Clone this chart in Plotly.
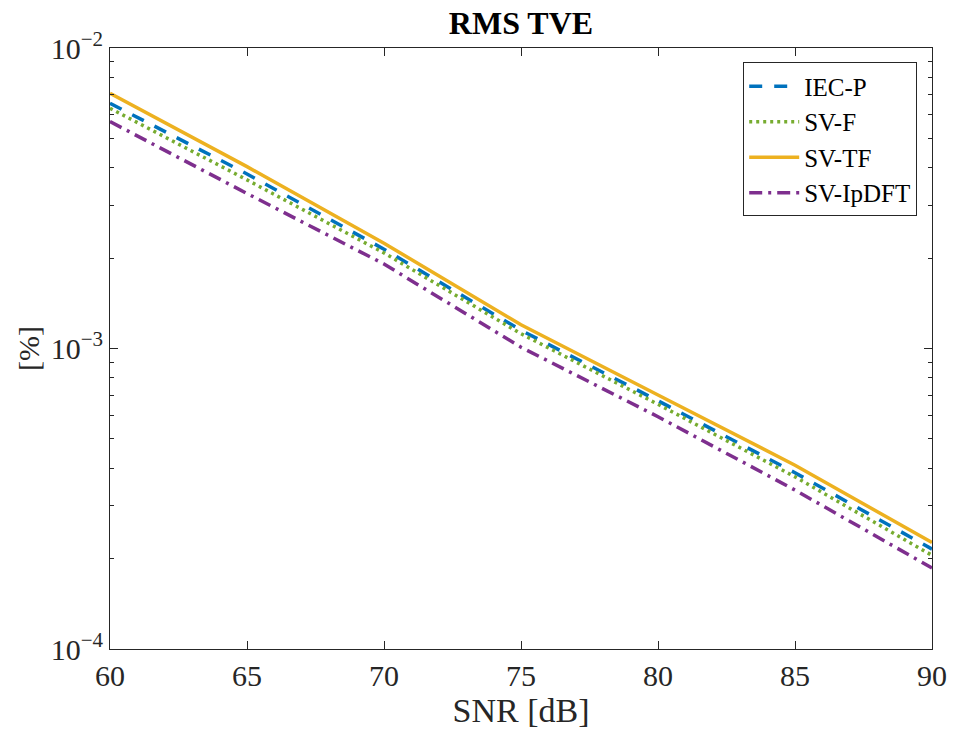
import plotly.graph_objects as go

# SNR sweep [dB]
snr = [60, 65, 70, 75, 80, 85, 90]

# RMS total vector error [%] per estimator
iec_p = [6.55e-3, 3.81e-3, 2.14e-3, 1.15e-3, 6.70e-4, 3.86e-4, 2.15e-4]
sv_f = [6.30e-3, 3.64e-3, 2.08e-3, 1.12e-3, 6.52e-4, 3.74e-4, 2.05e-4]
sv_tf = [7.07e-3, 4.03e-3, 2.24e-3, 1.20e-3, 7.00e-4, 4.09e-4, 2.26e-4]
sv_ipdft = [5.69e-3, 3.28e-3, 1.91e-3, 1.01e-3, 5.93e-4, 3.38e-4, 1.86e-4]

x_ticks = [60, 65, 70, 75, 80, 85, 90]
y_ticks = [1e-4, 1e-3, 1e-2]
y_tick_text = ["10<sup>\u22124</sup>", "10<sup>\u22123</sup>", "10<sup>\u22122</sup>"]
y_minor = [m * 10 ** e for e in (-4, -3) for m in range(2, 10)]

series = [
    ("IEC-P", iec_p, "#0072BD", "13px,12px"),
    ("SV-F", sv_f, "#77AC30", "3px,4px"),
    ("SV-TF", sv_tf, "#EDB120", "solid"),
    ("SV-IpDFT", sv_ipdft, "#7E2F8E", "13px,6px,3px,6px"),
]

fig = go.Figure()
for name, vals, color, dash in series:
    fig.add_trace(go.Scatter(
        x=snr, y=vals, name=name, mode="lines",
        line=dict(color=color, width=3.5, dash=dash),
    ))

axis_color = "#262626"
font_family = "Liberation Serif"

fig.update_layout(
    width=954, height=731,
    margin=dict(l=110, r=22, t=48, b=82),
    paper_bgcolor="white", plot_bgcolor="white",
    font=dict(family=font_family, size=30, color=axis_color),
    title=dict(text="<b>RMS TVE</b>", x=(110 + 932) / 2 / 954, xanchor="center",
               y=1 - 23 / 731, yanchor="middle",
               font=dict(family=font_family, size=32, color="black")),
    showlegend=True,
    legend=dict(
        x=0.982, y=0.976, xanchor="right", yanchor="top",
        bgcolor="white", bordercolor=axis_color, borderwidth=1,
        font=dict(family=font_family, size=25, color="black"),
        tracegroupgap=0, itemwidth=50,
    ),
)

fig.update_xaxes(
    range=[60, 90], tickmode="array", tickvals=x_ticks,
    ticks="inside", ticklen=8, tickwidth=1, tickcolor=axis_color,
    showline=True, linecolor=axis_color, linewidth=1, mirror="ticks",
    showgrid=False, zeroline=False, automargin=False,
    tickfont=dict(family=font_family, size=30, color=axis_color),
    title=dict(text="SNR [dB]", font=dict(family=font_family, size=34, color=axis_color),
               standoff=7),
)

fig.update_yaxes(
    type="log", range=[-4, -2], tickmode="array", tickvals=y_ticks, ticktext=y_tick_text,
    ticks="inside", ticklen=8, tickwidth=1, tickcolor=axis_color,
    showline=True, linecolor=axis_color, linewidth=1, mirror="ticks",
    showgrid=False, zeroline=False, automargin=False,
    minor=dict(tickmode="array", tickvals=y_minor, ticks="inside", ticklen=4,
               tickwidth=1, tickcolor=axis_color, showgrid=False),
    tickfont=dict(family=font_family, size=30, color=axis_color),
    title=dict(text="[%]", font=dict(family=font_family, size=30, color=axis_color),
               standoff=2),
)

fig.write_html("out.html")
